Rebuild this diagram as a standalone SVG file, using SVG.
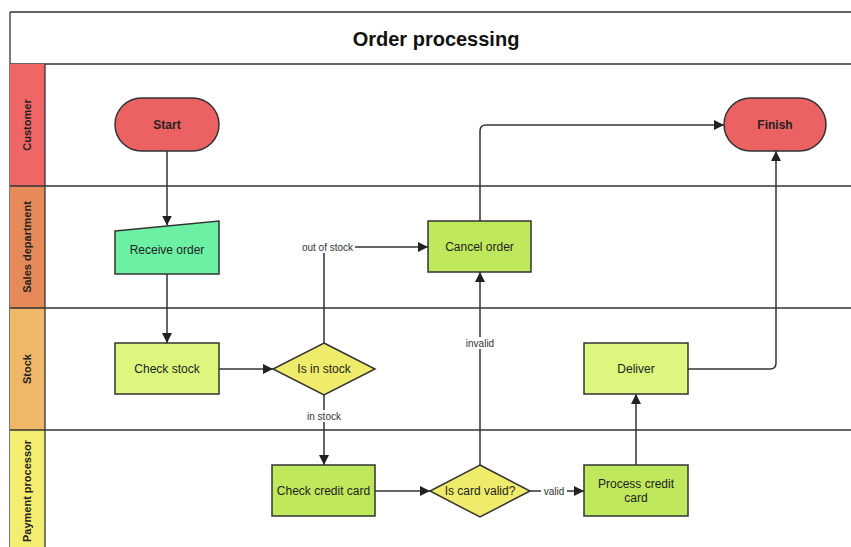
<svg xmlns="http://www.w3.org/2000/svg" width="851" height="547" viewBox="0 0 851 547">
  <style>
    .lane-line { stroke: #333; stroke-width: 1.3; }
    .lane-label { font-family: "Liberation Sans", Arial, sans-serif; font-size: 11px; font-weight: bold; fill: #222; text-anchor: middle; }
    .title { font-family: "Liberation Sans", Arial, sans-serif; font-size: 20px; font-weight: bold; fill: #111; text-anchor: middle; }
    .node { stroke: #333; stroke-width: 1.5; }
    .txt { font-family: "Liberation Sans", Arial, sans-serif; font-size: 12px; fill: #222; text-anchor: middle; dominant-baseline: central; }
    .bold { font-weight: bold; }
    .edge { fill: none; stroke: #333; stroke-width: 1.5; }
    .elabel { font-family: "Liberation Sans", Arial, sans-serif; font-size: 10px; fill: #333; text-anchor: middle; dominant-baseline: central; }
    .label-bg { fill: #ffffff; }
    .terminal { fill: #ec6262; }
    .input { fill: #6cf0a4; }
    .task-light { fill: #dcf67e; }
    .task { fill: #bfe85c; }
    .decision { fill: #eeec6a; }
  </style>
  <defs>
    <marker id="arrow" viewBox="0 0 10 10" refX="10" refY="5" markerWidth="10" markerHeight="10" markerUnits="userSpaceOnUse" orient="auto">
      <path d="M0,0 L10,5 L0,10 z" fill="#222"/>
    </marker>
  </defs>

  <rect width="851" height="547" fill="#ffffff"/>

  <!-- pool frame and title band -->
  <g id="pool">
    <line class="lane-line" x1="10" y1="12" x2="851" y2="12"/>
    <line class="lane-line" x1="10" y1="12" x2="10" y2="547"/>
    <line class="lane-line" x1="10" y1="64" x2="851" y2="64"/>
    <text class="title" x="436" y="46">Order processing</text>
  </g>

  <!-- swimlanes -->
  <g id="lane-customer">
    <rect x="10" y="64" width="35" height="122" fill="#ee6666"/>
    <text class="lane-label" transform="translate(31,125) rotate(-90)">Customer</text>
  </g>
  <g id="lane-sales">
    <rect x="10" y="186" width="35" height="122" fill="#e58a58"/>
    <text class="lane-label" transform="translate(31,247) rotate(-90)">Sales department</text>
  </g>
  <g id="lane-stock">
    <rect x="10" y="308" width="35" height="122" fill="#eeb868"/>
    <text class="lane-label" transform="translate(31,369) rotate(-90)">Stock</text>
  </g>
  <g id="lane-payment">
    <rect x="10" y="430" width="35" height="117" fill="#f4ee70"/>
    <text class="lane-label" transform="translate(31,491) rotate(-90)">Payment processor</text>
  </g>
  <g id="lane-lines">
    <line class="lane-line" x1="45" y1="64" x2="45" y2="547"/>
    <line class="lane-line" x1="10" y1="186" x2="851" y2="186"/>
    <line class="lane-line" x1="10" y1="308" x2="851" y2="308"/>
    <line class="lane-line" x1="10" y1="430" x2="851" y2="430"/>
  </g>

  <!-- connectors -->
  <g id="connectors">
    <path class="edge" d="M167,151 V225.5" marker-end="url(#arrow)"/>
    <path class="edge" d="M167,274 V343" marker-end="url(#arrow)"/>
    <path class="edge" d="M219,369 H273" marker-end="url(#arrow)"/>
    <path class="edge" d="M324,343 V247 H428" marker-end="url(#arrow)"/>
    <path class="edge" d="M324,395 V465" marker-end="url(#arrow)"/>
    <path class="edge" d="M375,491 H430" marker-end="url(#arrow)"/>
    <path class="edge" d="M480,465 V272" marker-end="url(#arrow)"/>
    <path class="edge" d="M530,491 H584" marker-end="url(#arrow)"/>
    <path class="edge" d="M636,465 V394" marker-end="url(#arrow)"/>
    <path class="edge" d="M688,369 H770 Q776,369 776,363 V151" marker-end="url(#arrow)"/>
    <path class="edge" d="M480,221 V131 Q480,125 486,125 H724" marker-end="url(#arrow)"/>
    <rect class="label-bg" x="300" y="241" width="55" height="12"/>
    <text class="elabel" x="327.5" y="247">out of stock</text>
    <rect class="label-bg" x="305" y="410" width="38" height="12"/>
    <text class="elabel" x="324" y="416">in stock</text>
    <rect class="label-bg" x="464" y="337" width="32" height="12"/>
    <text class="elabel" x="480" y="343">invalid</text>
    <rect class="label-bg" x="541" y="485" width="26" height="12"/>
    <text class="elabel" x="554" y="491">valid</text>
  </g>

  <!-- nodes -->
  <g id="start">
    <rect class="node terminal" x="115" y="98" width="104" height="53" rx="26.5"/>
    <text class="txt bold" x="167" y="125">Start</text>
  </g>
  <g id="finish">
    <rect class="node terminal" x="724" y="98" width="102" height="53" rx="26.5"/>
    <text class="txt bold" x="775" y="125">Finish</text>
  </g>
  <g id="receive-order">
    <polygon class="node input" points="115,231 219,221 219,274 115,274"/>
    <text class="txt" x="167" y="250">Receive order</text>
  </g>
  <g id="check-stock">
    <rect class="node task-light" x="115" y="343" width="104" height="51"/>
    <text class="txt" x="167" y="369">Check stock</text>
  </g>
  <g id="is-in-stock">
    <polygon class="node decision" points="324,343 375,369 324,395 273,369"/>
    <text class="txt" x="324" y="369">Is in stock</text>
  </g>
  <g id="cancel-order">
    <rect class="node task" x="428" y="221" width="103" height="51"/>
    <text class="txt" x="479.5" y="247">Cancel order</text>
  </g>
  <g id="check-credit-card">
    <rect class="node task" x="272" y="465" width="103" height="51"/>
    <text class="txt" x="323.5" y="491">Check credit card</text>
  </g>
  <g id="is-card-valid">
    <polygon class="node decision" points="480,465 530,491 480,517 430,491"/>
    <text class="txt" x="480" y="491">Is card valid?</text>
  </g>
  <g id="process-credit-card">
    <rect class="node task" x="584" y="465" width="104" height="51"/>
    <text class="txt" x="636" y="484">Process credit</text>
    <text class="txt" x="636" y="498">card</text>
  </g>
  <g id="deliver">
    <rect class="node task-light" x="584" y="343" width="104" height="51"/>
    <text class="txt" x="636" y="369">Deliver</text>
  </g>
</svg>
